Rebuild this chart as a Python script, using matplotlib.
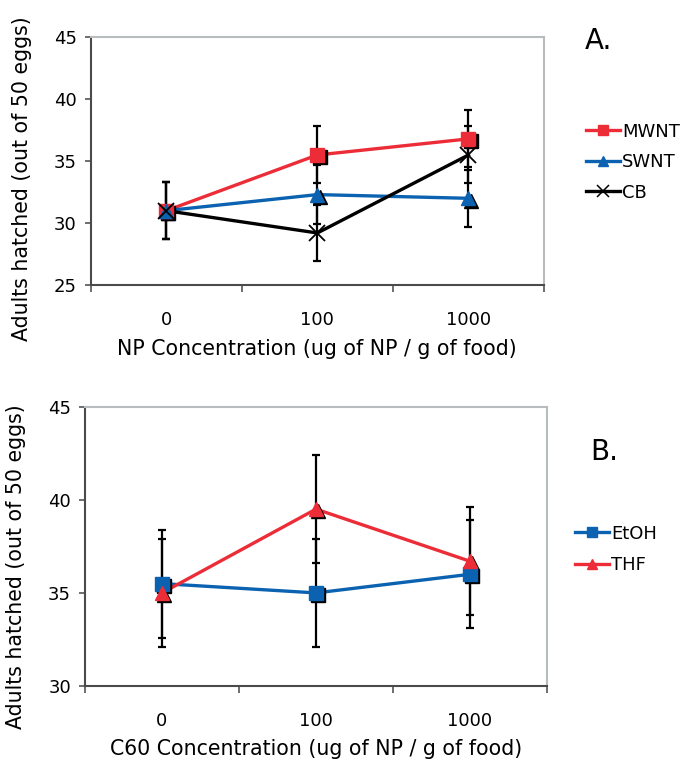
import matplotlib
matplotlib.use("Agg")
import matplotlib.pyplot as plt
import matplotlib.transforms as mtransforms
import numpy as np

plt.rcParams['font.family'] = ['DejaVu Sans']

# ---------------- data ----------------
categories = ["0", "100", "1000"]

# Panel A
mwnt = [31.0, 35.5, 36.8]
mwnt_err = [2.3, 2.3, 2.3]
swnt = [31.0, 32.3, 32.0]
swnt_err = [2.3, 2.4, 2.3]
cb = [31.0, 29.2, 35.5]
cb_err = [2.3, 2.3, 2.3]

# Panel B
etoh = [35.5, 35.0, 36.0]
etoh_err = [2.9, 2.9, 2.9]
thf = [35.0, 39.5, 36.7]
thf_err = [2.9, 2.9, 2.9]

RED = '#ec2d38'
BLUE = '#0b62b0'

fig = plt.figure(figsize=(6.86, 7.62), dpi=100)
axA = fig.add_axes([0.1322, 0.6260, 0.6608, 0.3250])
axB = fig.add_axes([0.1239, 0.0997, 0.6735, 0.3666])

shadow = mtransforms.ScaledTranslation(2.2 / 100, -2.2 / 100, fig.dpi_scale_trans)


def draw_series(ax, y, err, color, marker, label, ms, shadow_on=True):
    x = np.arange(len(y))
    ax.errorbar(x, y, yerr=err, fmt='none', ecolor='black', elinewidth=1.6,
                capsize=3.2, capthick=1.6, zorder=2)
    ax.plot(x, y, color=color, lw=2.4, zorder=3)
    if shadow_on:
        ax.plot(x, y, linestyle='none', marker=marker, color='black', ms=ms,
                mec='black', transform=ax.transData + shadow, zorder=4)
    ax.plot(x, y, linestyle='none', marker=marker, color=color, ms=ms,
            mec=color, zorder=5)
    # legend proxy
    ax.plot([], [], color=color, lw=2.4, marker=marker, ms=ms * 0.75,
            mec=color, label=label)


def style_axes(ax, ylo, yhi):
    ax.set_xlim(-0.5, len(categories) - 0.5)
    ax.set_ylim(ylo, yhi)
    ax.set_yticks(np.arange(ylo, yhi + 1, 5))
    ax.set_xticks(np.arange(len(categories)))
    ax.set_xticklabels(categories)
    ax.set_xticks(np.arange(-0.5, len(categories)), minor=True)
    ax.tick_params(axis='x', which='major', length=0, pad=19, labelsize=13)
    ax.tick_params(axis='x', which='minor', length=5, width=1.2,
                   direction='out', color='#555555')
    ax.tick_params(axis='y', which='major', length=4, width=1.2,
                   direction='out', pad=6, labelsize=13, color='#555555')
    for s in ['top', 'right']:
        ax.spines[s].set_color('#b9bcbf')
        ax.spines[s].set_linewidth(1.5)
    for s in ['left', 'bottom']:
        ax.spines[s].set_color('#4a4a4a')
        ax.spines[s].set_linewidth(1.5)


LABEL_FS = 14.8

# Panel A
draw_series(axA, mwnt, mwnt_err, RED, 's', 'MWNT', 10)
draw_series(axA, swnt, swnt_err, BLUE, '^', 'SWNT', 10)
# CB: x markers
x = np.arange(len(cb))
axA.errorbar(x, cb, yerr=cb_err, fmt='none', ecolor='black', elinewidth=1.6,
             capsize=3.2, capthick=1.6, zorder=2)
axA.plot(x, cb, color='black', lw=2.4, zorder=3)
axA.plot(x, cb, linestyle='none', marker='x', color='black', ms=11, mew=1.3,
         zorder=5)
axA.plot([], [], color='black', lw=2.4, marker='x', ms=8, mew=1.1, label='CB')

style_axes(axA, 25, 45)
axA.set_xlabel('NP Concentration (ug of NP / g of food)', fontsize=LABEL_FS,
               labelpad=7)
axA.set_ylabel('Adults hatched (out of 50 eggs)', fontsize=LABEL_FS)
axA.yaxis.set_label_coords(-0.13, 0.431)
axA.legend(loc='center left', bbox_to_anchor=(1.077, 0.496), frameon=False,
           fontsize=13, handlelength=1.9, handletextpad=0.1, labelspacing=0.7,
           borderaxespad=0)
fig.text(0.852, 0.946, 'A.', fontsize=20, ha='left', va='center')

# Panel B
draw_series(axB, etoh, etoh_err, BLUE, 's', 'EtOH', 10)
draw_series(axB, thf, thf_err, RED, '^', 'THF', 10)
style_axes(axB, 30, 45)
axB.set_xlabel('C60 Concentration (ug of NP / g of food)', fontsize=LABEL_FS,
               labelpad=6)
axB.set_ylabel('Adults hatched (out of 50 eggs)', fontsize=LABEL_FS)
axB.yaxis.set_label_coords(-0.128, 0.426)
axB.legend(loc='center left', bbox_to_anchor=(1.045, 0.489), frameon=False,
           fontsize=13, handlelength=1.9, handletextpad=0.1, labelspacing=0.75,
           borderaxespad=0)
fig.text(0.86, 0.407, 'B.', fontsize=20, ha='left', va='center')

fig.savefig('out.png', dpi=100)
